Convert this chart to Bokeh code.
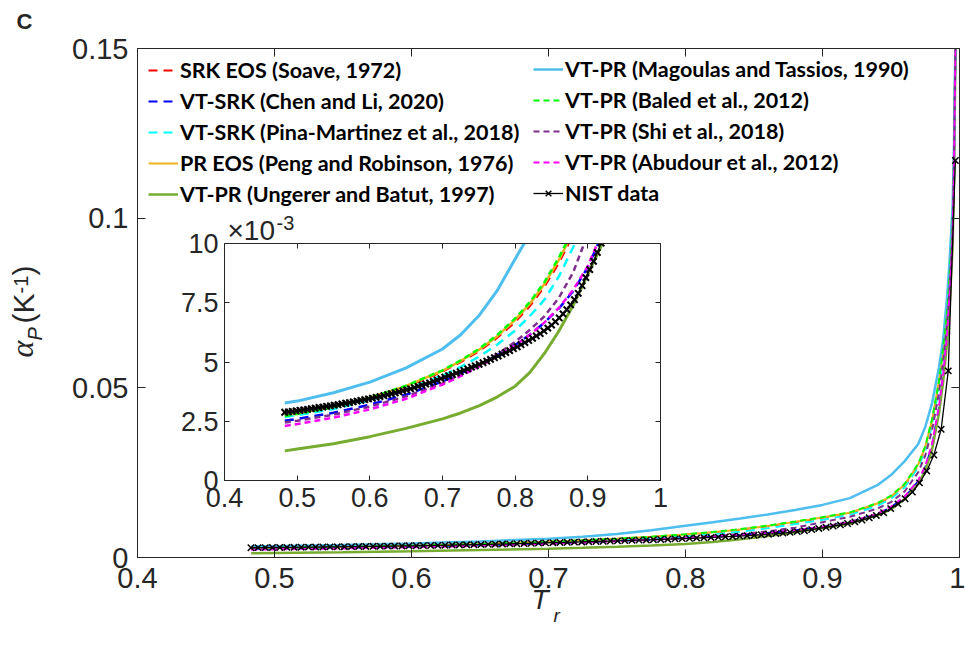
import math
from bokeh.plotting import figure
from bokeh.models import (Range1d, Legend, LegendItem, Label, LinearAxis,
                          FixedTicker, CustomJSTickFormatter, CustomLabelingPolicy)
from bokeh.embed import file_html
from bokeh.resources import INLINE

# ---------------- data (alpha_P in units of 1e-3 K^-1) ----------------
TR_NIST = [0.4828, 0.4880, 0.4933, 0.4985, 0.5038, 0.5090, 0.5143, 0.5195, 0.5248, 0.5300,
           0.5353, 0.5405, 0.5458, 0.5510, 0.5562, 0.5615, 0.5667, 0.5720, 0.5772, 0.5825,
           0.5877, 0.5930, 0.5982, 0.6035, 0.6087, 0.6140, 0.6192, 0.6245, 0.6297, 0.6350,
           0.6402, 0.6455, 0.6507, 0.6560, 0.6612, 0.6664, 0.6717, 0.6769, 0.6822, 0.6874,
           0.6927, 0.6979, 0.7032, 0.7084, 0.7137, 0.7189, 0.7242, 0.7294, 0.7347, 0.7399,
           0.7451, 0.7504, 0.7557, 0.7609, 0.7661, 0.7714, 0.7766, 0.7819, 0.7871, 0.7924,
           0.7976, 0.8029, 0.8081, 0.8134, 0.8186, 0.8239, 0.8291, 0.8344, 0.8396, 0.8449,
           0.8501, 0.8554, 0.8606, 0.8659, 0.8711, 0.8763, 0.8816, 0.8868, 0.8921, 0.8973,
           0.9026, 0.9078, 0.9131, 0.9183, 0.9236, 0.9288, 0.9341, 0.9393, 0.9446, 0.9498,
           0.9551, 0.9603, 0.9656, 0.9708, 0.9761, 0.9813, 0.9866, 0.9918, 0.9970]
NIST = [2.88, 2.90, 2.92, 2.94, 2.96, 2.98, 3.00, 3.03, 3.05, 3.08,
        3.10, 3.13, 3.15, 3.18, 3.20, 3.23, 3.26, 3.29, 3.32, 3.35,
        3.38, 3.41, 3.44, 3.47, 3.51, 3.54, 3.58, 3.62, 3.66, 3.70,
        3.74, 3.78, 3.82, 3.87, 3.92, 3.97, 4.02, 4.07, 4.12, 4.18,
        4.24, 4.30, 4.36, 4.42, 4.47, 4.53, 4.59, 4.65, 4.71, 4.78,
        4.84, 4.90, 4.97, 5.04, 5.11, 5.18, 5.25, 5.33, 5.40, 5.48,
        5.56, 5.64, 5.73, 5.82, 5.91, 6.00, 6.10, 6.20, 6.31, 6.43,
        6.56, 6.70, 6.86, 7.03, 7.21, 7.41, 7.63, 7.90, 8.22, 8.56,
        8.90, 9.25, 9.62, 10.02, 10.50, 11.05, 11.70, 12.40, 13.20, 14.40,
        15.80, 17.30, 19.30, 22.00, 25.50, 30.20, 37.80, 55.00, 117.0]

TR_MODEL = [0.483, 0.50, 0.55, 0.60, 0.65, 0.70, 0.725, 0.75, 0.775, 0.80, 0.82, 0.84, 0.86,
            0.88, 0.90, 0.92, 0.94, 0.95, 0.96, 0.97, 0.975, 0.98, 0.985, 0.988, 0.991, 0.993,
            0.995, 0.996, 0.997, 0.998]
SRK_SOAVE = [2.74, 2.82, 3.09, 3.47, 3.96, 4.60, 5.00, 5.46, 6.02, 6.70, 7.36, 8.18, 9.18,
             10.4, 11.7, 13.1, 15.7, 17.8, 21.3, 27.2, 32.2, 40.0, 51.0, 60.5, 71.5, 83.0,
             97.0, 118.0, 150.0, 200.0]
VTSRK_CHEN = [2.52, 2.60, 2.86, 3.20, 3.62, 4.18, 4.52, 4.88, 5.28, 5.72, 6.15, 6.65, 7.25,
              8.00, 9.00, 10.4, 12.8, 14.8, 17.8, 22.5, 26.5, 33.0, 44.0, 53.0, 65.0, 78.0,
              94.0, 115.0, 148.0, 198.0]
VTSRK_PINA = [2.68, 2.76, 3.02, 3.38, 3.85, 4.42, 4.79, 5.22, 5.73, 6.33, 6.93, 7.62, 8.60,
              9.85, 11.1, 12.6, 15.2, 17.3, 20.7, 26.7, 31.5, 39.0, 50.0, 59.0, 70.0, 82.0,
              96.0, 117.0, 149.0, 199.0]
PR_PENG = [2.76, 2.84, 3.11, 3.49, 3.99, 4.63, 5.04, 5.51, 6.08, 6.78, 7.45, 8.28, 9.30,
           10.5, 11.8, 13.2, 15.9, 18.0, 21.5, 27.5, 32.5, 40.5, 51.8, 61.3, 72.3, 84.0,
           98.0, 119.0, 151.0, 201.0]
VTPR_UNGERER = [1.25, 1.33, 1.55, 1.85, 2.20, 2.60, 2.85, 3.15, 3.52, 3.98, 4.55, 5.35, 6.30,
                7.40, 8.70, 10.0, 12.4, 14.2, 17.2, 21.8, 25.6, 31.8, 42.5, 51.5, 63.5, 76.0,
                92.0, 113.0, 146.0, 196.0]
VTPR_MAGOULAS = [3.27, 3.35, 3.70, 4.15, 4.75, 5.55, 6.15, 6.95, 8.00, 9.35, 10.4, 11.5, 12.7,
                 14.0, 15.5, 17.5, 21.3, 24.3, 28.4, 33.5, 38.5, 45.5, 56.0, 64.0, 77.0, 89.0,
                 104.0, 122.0, 152.0, 200.0]
VTPR_BALED = [2.72, 2.81, 3.10, 3.49, 4.00, 4.65, 5.07, 5.55, 6.13, 6.84, 7.52, 8.36, 9.40,
              10.6, 11.9, 13.3, 16.0, 18.2, 21.7, 27.7, 32.8, 40.8, 52.0, 61.5, 72.5, 84.5,
              98.5, 119.5, 151.5, 202.0]
VTPR_SHI = [2.45, 2.52, 2.78, 3.12, 3.55, 4.10, 4.45, 4.85, 5.32, 5.85, 6.35, 6.92, 7.70,
            8.80, 10.4, 12.0, 14.4, 16.3, 19.5, 25.2, 30.0, 37.5, 48.5, 57.5, 69.0, 81.0,
            96.0, 117.0, 149.0, 199.0]
VTPR_ABUDOUR = [2.30, 2.38, 2.65, 3.00, 3.45, 4.05, 4.40, 4.80, 5.23, 5.70, 6.15, 6.66, 7.28,
                8.05, 9.05, 10.5, 12.9, 15.0, 18.0, 22.8, 27.0, 33.5, 44.5, 53.5, 66.0, 79.0,
                95.0, 116.0, 149.0, 199.0]

LABELS = ["SRK EOS (Soave, 1972)",
          "VT-SRK (Chen and Li, 2020)",
          "VT-SRK (Pina-Martinez et al., 2018)",
          "PR EOS (Peng and Robinson, 1976)",
          "VT-PR (Ungerer and Batut, 1997)",
          "VT-PR (Magoulas and Tassios, 1990)",
          "VT-PR (Baled et al., 2012)",
          "VT-PR (Shi et al., 2018)",
          "VT-PR (Abudour et al., 2012)",
          "NIST data"]

X_TICKS = [0.4, 0.5, 0.6, 0.7, 0.8, 0.9, 1.0]
Y_TICKS_MAIN = [0, 50, 100, 150]
Y_TICKS_INSET = [0, 2.5, 5, 7.5, 10]

SERIES = [
    (SRK_SOAVE, "#FF0000", "9 6"),
    (VTSRK_CHEN, "#0000FF", "9 6"),
    (VTSRK_PINA, "#00FFFF", "9 6"),
    (PR_PENG, "#EDB120", "solid"),
    (VTPR_UNGERER, "#77AC30", "solid"),
    (VTPR_MAGOULAS, "#4DBEEE", "solid"),
    (VTPR_BALED, "#00FF00", "6 4"),
    (VTPR_SHI, "#7E2F8E", "6 4"),
    (VTPR_ABUDOUR, "#FF00FF", "6 4"),
]

AX = "#262626"
TICK_FONT = "Liberation Sans"
HIDE_ALL = CustomLabelingPolicy(code="""
for (const i of Array.from(indices)) { indices.unset(i) }
return indices
""")


def style(fig, tick_len, font_px, yfmt, y_ticks, standoff_x, standoff_y):
    fig.xgrid.visible = False
    fig.ygrid.visible = False
    fig.outline_line_color = AX
    fig.outline_line_width = 1
    fig.background_fill_color = "white"
    xfmt = CustomJSTickFormatter(code="return tick.toString();")
    for ax in fig.xaxis:
        ax.ticker = FixedTicker(ticks=X_TICKS)
        ax.formatter = xfmt
        ax.major_label_standoff = standoff_x
    for ax in fig.yaxis:
        ax.ticker = FixedTicker(ticks=y_ticks)
        ax.formatter = yfmt
        ax.major_label_standoff = standoff_y
    fig.add_layout(LinearAxis(ticker=FixedTicker(ticks=X_TICKS)), "above")
    fig.add_layout(LinearAxis(ticker=FixedTicker(ticks=y_ticks)), "right")
    for ax in list(fig.xaxis) + list(fig.yaxis):
        ax.major_tick_in = tick_len
        ax.major_tick_out = 0
        ax.minor_tick_in = 0
        ax.minor_tick_out = 0
        ax.axis_line_color = AX
        ax.major_tick_line_color = AX
        ax.major_label_text_font = TICK_FONT
        ax.major_label_text_font_size = f"{font_px}px"
        ax.major_label_text_color = AX
    for ax in fig.above + fig.right:
        ax.major_label_policy = HIDE_ALL
        ax.major_label_text_font_size = "1px"
        ax.major_label_standoff = 0


def draw(fig, lw, msize, mlw):
    rs = []
    for data, col, dash in SERIES:
        w = lw + 0.5 if dash == "solid" and col != "#EDB120" else lw
        r = fig.line(TR_MODEL, data, line_color=col, line_width=w, line_dash=dash)
        rs.append([r])
    ln = fig.line(TR_NIST, NIST, line_color="black", line_width=1.3)
    sc = fig.scatter(TR_NIST, NIST, marker="x", size=msize, line_color="black", line_width=mlw)
    rs.append([ln, sc])
    return rs


# ---------------- main figure ----------------
p = figure(width=965, height=652, x_range=Range1d(0.4, 1.0), y_range=Range1d(0, 150),
           output_backend="svg", toolbar_location=None,
           min_border_left=137, min_border_right=6, min_border_top=48, min_border_bottom=95)
p.border_fill_color = "white"
style(p, 8, 29, CustomJSTickFormatter(code="return (tick/1000).toString();"),
      Y_TICKS_MAIN, 10, 9)
rends = draw(p, 2.0, 9, 1.5)

items = [LegendItem(label=LABELS[i], renderers=rends[i]) for i in range(10)]
leg_kw = dict(orientation="vertical", glyph_width=30, glyph_height=20, label_height=20,
              spacing=5, padding=0, margin=0, label_standoff=2,
              border_line_alpha=0, background_fill_alpha=0,
              label_text_font="Lato", label_text_font_style="bold",
              label_text_font_size="21.5px", label_text_color="black")
p.add_layout(Legend(items=items[:5], location=(11, 350), **leg_kw))
p.add_layout(Legend(items=items[5:], location=(396, 351), **leg_kw))

# ---------------- inset ----------------
q = figure(width=510, height=315, x_range=Range1d(0.4, 1.0), y_range=Range1d(0, 10),
           output_backend="svg", toolbar_location=None,
           min_border_left=54, min_border_right=20, min_border_top=28, min_border_bottom=50,
           styles={"position": "absolute", "left": "170px", "top": "215px"})
q.border_fill_alpha = 0
style(q, 5, 27, CustomJSTickFormatter(code="return tick.toString();"),
      Y_TICKS_INSET, 7, 6)
draw(q, 2.5, 9, 2.0)

# ---------------- text overlay (page pixel coordinates) ----------------
o = figure(width=965, height=652, x_range=Range1d(0, 965), y_range=Range1d(0, 652),
           output_backend="svg", toolbar_location=None, min_border=0,
           x_axis_type=None, y_axis_type=None,
           styles={"position": "absolute", "left": "0px", "top": "0px"})
o.outline_line_color = None
o.background_fill_alpha = 0
o.border_fill_alpha = 0
o.xgrid.visible = False
o.ygrid.visible = False


def lab(x, y, text, size, font=TICK_FONT, style_="normal", angle=0.0):
    o.add_layout(Label(x=x, y=652 - y, x_units="screen", y_units="screen", text=text,
                       text_font=font, text_font_style=style_, text_font_size=f"{size}px",
                       text_color=AX, angle=angle))


rot = math.pi / 2
lab(16, 33, "C", 22, style_="bold")
lab(531, 614, "T", 28, style_="italic")
lab(553, 625, "r", 19, style_="italic")
lab(39, 357, "α", 32, font="Liberation Serif", style_="italic", angle=rot)
lab(45, 340, "P", 20, style_="italic", angle=rot)
lab(39, 323, "(K", 30, angle=rot)
lab(27, 293, "-1", 20, angle=rot)
lab(39, 275, ")", 30, angle=rot)
lab(227, 245, "×10", 28)
lab(276, 229, "-3", 20)

open("out.html", "w").write(file_html([p, q, o], INLINE))
